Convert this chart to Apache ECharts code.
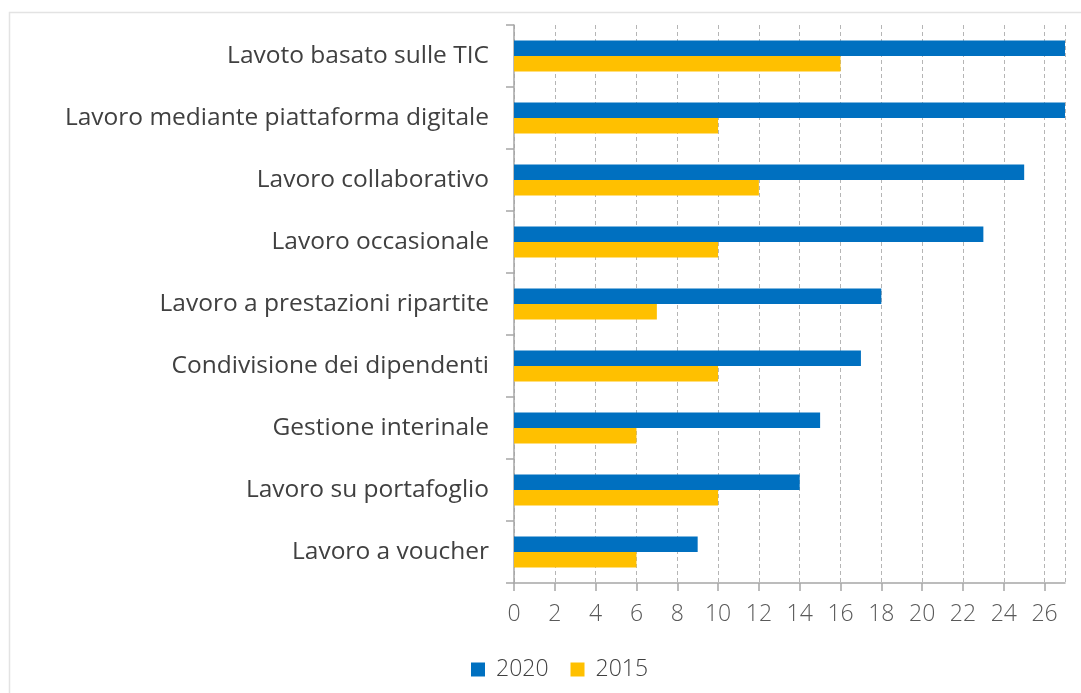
<!DOCTYPE html>
<html>
<head>
<meta charset="utf-8">
<script src="https://cdn.jsdelivr.net/npm/echarts@6/dist/echarts.min.js"></script>
<style>
  html, body { margin: 0; padding: 0; background: #ffffff; }
  #chart { width: 1081px; height: 693px; }
</style>
</head>
<body>
<div id="chart"></div>
<script>
// Forme di lavoro: numero di paesi, 2020 vs 2015
const categories = [
  'Lavoto basato sulle TIC',
  'Lavoro mediante piattaforma digitale',
  'Lavoro collaborativo',
  'Lavoro occasionale',
  'Lavoro a prestazioni ripartite',
  'Condivisione dei dipendenti',
  'Gestione interinale',
  'Lavoro su portafoglio',
  'Lavoro a voucher'
];
const values2020 = [27, 27, 25, 23, 18, 17, 15, 14, 9];
const values2015 = [16, 10, 12, 10, 7, 10, 6, 10, 6];
const seriesNames = ['2020', '2015'];

const FONT = '"Open Sans", "Liberation Sans", sans-serif';

const chart = echarts.init(document.getElementById('chart'), null, { renderer: 'canvas' });

chart.setOption({
  animation: false,
  backgroundColor: '#ffffff',
  graphic: [{
    type: 'rect',
    shape: { x: 9.5, y: 12.5, width: 1100, height: 700 },
    style: { fill: 'none', stroke: '#e3e3e3', lineWidth: 1.5 },
    silent: true,
    z: -1
  }],
  legend: {
    data: seriesNames,
    top: 653,
    left: 466,
    itemWidth: 14,
    itemHeight: 14,
    itemGap: 22,
    icon: 'rect',
    textStyle: {
      fontFamily: FONT, fontSize: 23, fontWeight: 300, color: '#404040',
      padding: [0, 0, 0, 6]
    }
  },
  grid: {
    left: 514,
    right: 16,
    top: 25,
    bottom: 110,
    containLabel: false
  },
  xAxis: {
    type: 'value',
    min: 0,
    max: 27,
    interval: 2,
    axisLine: { show: true, lineStyle: { color: '#a6a6a6', width: 1.5 } },
    axisTick: { show: true, length: 8, lineStyle: { color: '#a6a6a6', width: 1.5 } },
    axisLabel: {
      fontFamily: FONT, fontSize: 23, fontWeight: 300, color: '#595959', margin: 20,
      showMaxLabel: false
    },
    splitLine: { show: true, lineStyle: { color: '#b5b5b5', type: [4, 3], width: 1 } }
  },
  yAxis: {
    type: 'category',
    data: categories,
    inverse: true,
    axisLine: { show: true, lineStyle: { color: '#a6a6a6', width: 1.5 } },
    axisTick: { show: true, length: 8, lineStyle: { color: '#a6a6a6', width: 1.5 } },
    axisLabel: { fontFamily: FONT, fontSize: 24.5, fontWeight: 400, color: '#404040', margin: 25 }
  },
  series: [
    {
      name: seriesNames[0],
      type: 'bar',
      data: values2020,
      barWidth: 15.5,
      barGap: '0%',
      itemStyle: { color: '#0070C0' }
    },
    {
      name: seriesNames[1],
      type: 'bar',
      data: values2015,
      barWidth: 15.5,
      barGap: '0%',
      itemStyle: { color: '#FFC000' }
    }
  ]
});
</script>
</body>
</html>
